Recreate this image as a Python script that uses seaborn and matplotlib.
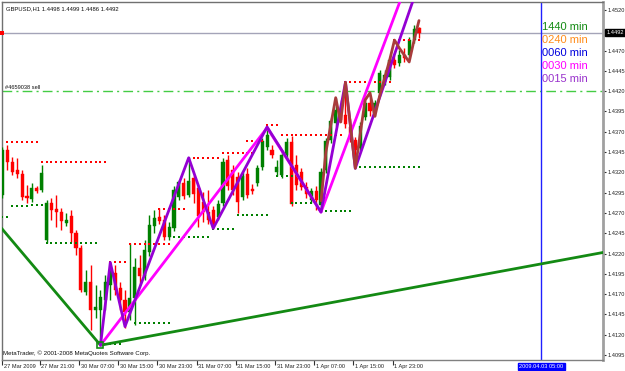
import matplotlib
matplotlib.use("Agg")
import matplotlib.pyplot as plt
import matplotlib.transforms as mtransforms
from matplotlib import font_manager
import numpy as np
import pandas as pd
import seaborn as sns

# ---------------- data ----------------
bars = list(range(86))
opens = [1.4292, 1.4348, 1.4333, 1.4323, 1.4318, 1.4291, 1.4287, 1.4301, 1.4298, 1.4237,
         1.4282, 1.4275, 1.4271, 1.4258, 1.4266, 1.4245, 1.4227, 1.4173, 1.4185, 1.4150,
         1.4150, 1.4163, 1.4181, 1.4196, 1.4178, 1.4163, 1.4148, 1.4165, 1.4202, 1.4192,
         1.4222, 1.4254, 1.4265, 1.4261, 1.4240, 1.4251, 1.4290, 1.4307, 1.4292, 1.4313,
         1.4301, 1.4283, 1.4271, 1.4274, 1.4265, 1.4282, 1.4335, 1.4323, 1.4314, 1.4290,
         1.4318, 1.4299, 1.4307, 1.4327, 1.4351, 1.4348, 1.4320, 1.4317, 1.4341, 1.4357,
         1.4329, 1.4320, 1.4302, 1.4286, 1.4297, 1.4280, 1.4323, 1.4360, 1.4381, 1.4393,
         1.4391, 1.4376, 1.4360, 1.4350, 1.4388, 1.4405, 1.4393, 1.4418, 1.4431, 1.4437,
         1.4458, 1.4455, 1.4465, 1.4465, 1.4483, 1.4498]
highs = [1.4351, 1.4354, 1.4339, 1.4338, 1.4323, 1.4304, 1.4307, 1.4303, 1.4329, 1.4286,
         1.4288, 1.4292, 1.4276, 1.4270, 1.4274, 1.4249, 1.4230, 1.4200, 1.4206, 1.4181,
         1.4175, 1.4194, 1.4210, 1.4206, 1.4185, 1.4175, 1.4233, 1.4214, 1.4218, 1.4237,
         1.4267, 1.4274, 1.4276, 1.4267, 1.4259, 1.4303, 1.4311, 1.4313, 1.4339, 1.4317,
         1.4304, 1.4296, 1.4298, 1.4278, 1.4286, 1.4338, 1.4341, 1.4329, 1.4320, 1.4320,
         1.4325, 1.4306, 1.4329, 1.4362, 1.4376, 1.4354, 1.4335, 1.4348, 1.4362, 1.4365,
         1.4341, 1.4325, 1.4308, 1.4301, 1.4303, 1.4325, 1.4362, 1.4387, 1.4412, 1.4409,
         1.4431, 1.4387, 1.4364, 1.4382, 1.4409, 1.4412, 1.4409, 1.4446, 1.4446, 1.4463,
         1.4465, 1.4471, 1.4473, 1.4487, 1.4502, 1.4499]
lows = [1.4288, 1.4323, 1.4317, 1.4313, 1.4286, 1.4282, 1.4283, 1.4295, 1.4296, 1.4233,
        1.4261, 1.4253, 1.4249, 1.4254, 1.4234, 1.4218, 1.4173, 1.4169, 1.4126, 1.4141,
        1.4107, 1.4150, 1.4163, 1.4169, 1.4150, 1.4128, 1.4138, 1.4132, 1.4181, 1.4187,
        1.4217, 1.4245, 1.4256, 1.4237, 1.4237, 1.4248, 1.4286, 1.4287, 1.4290, 1.4282,
        1.4253, 1.4259, 1.4256, 1.4250, 1.4261, 1.4278, 1.4298, 1.4292, 1.4270, 1.4286,
        1.4288, 1.4293, 1.4303, 1.4323, 1.4348, 1.4338, 1.4315, 1.4313, 1.4338, 1.4278,
        1.4298, 1.4298, 1.4288, 1.4282, 1.4274, 1.4271, 1.4319, 1.4356, 1.4377, 1.4382,
        1.4375, 1.4357, 1.4325, 1.4345, 1.4384, 1.4389, 1.4389, 1.4414, 1.4428, 1.4434,
        1.4449, 1.4451, 1.4456, 1.4461, 1.4479, 1.4486]
closes = [1.4348, 1.4333, 1.4320, 1.4318, 1.4290, 1.4288, 1.4301, 1.4297, 1.4319, 1.4282,
          1.4274, 1.4271, 1.4260, 1.4261, 1.4245, 1.4227, 1.4175, 1.4185, 1.4150, 1.4154,
          1.4166, 1.4185, 1.4197, 1.4175, 1.4163, 1.4148, 1.4165, 1.4203, 1.4192, 1.4224,
          1.4255, 1.4264, 1.4260, 1.4240, 1.4253, 1.4298, 1.4308, 1.4291, 1.4309, 1.4293,
          1.4266, 1.4271, 1.4261, 1.4254, 1.4281, 1.4333, 1.4303, 1.4298, 1.4283, 1.4315,
          1.4292, 1.4297, 1.4325, 1.4359, 1.4366, 1.4341, 1.4327, 1.4341, 1.4357, 1.4281,
          1.4304, 1.4302, 1.4293, 1.4297, 1.4286, 1.4320, 1.4359, 1.4383, 1.4397, 1.4384,
          1.4380, 1.4361, 1.4348, 1.4377, 1.4405, 1.4396, 1.4405, 1.4442, 1.4440, 1.4458,
          1.4452, 1.4465, 1.4461, 1.4483, 1.4497, 1.4492]

# zigzag pivots (bar index, price)
zz1440_bars = [-2, 20, 125]
zz1440_prices = [1.4264, 1.4107, 1.4224]
zz0030_bars = [20, 54, 65, 85]
zz0030_prices = [1.4107, 1.4375, 1.4271, 1.4593]
zz0015_bars = [20, 22, 25, 38, 43, 54, 65, 70, 72, 85]
zz0015_prices = [1.4107, 1.4209, 1.4130, 1.4338, 1.4251, 1.4376, 1.4271, 1.4431, 1.4325, 1.4553]
zz0005_bars = [65, 66, 68, 69, 70, 72, 74, 75, 76, 77, 79, 80, 81, 83, 84, 85]
zz0005_prices = [1.4285, 1.4345, 1.4412, 1.4382, 1.4431, 1.4325, 1.4409, 1.4418, 1.4389, 1.4415,
                 1.4458, 1.4483, 1.4473, 1.4456, 1.4483, 1.4507]

# fractal level dots: price, first bar, last bar
res_prices = [1.4357, 1.4333, 1.4210, 1.4232, 1.4275, 1.4338, 1.4344, 1.4359, 1.4378, 1.4366, 1.4431, 1.4483]
res_start = [1, 8, 22, 26, 32, 38, 45, 50, 54, 57, 70, 80]
res_end = [7, 21, 25, 34, 37, 44, 51, 53, 56, 69, 79, 85]
sup_prices = [1.4265, 1.4278, 1.4280, 1.4233, 1.4109, 1.4134, 1.4240, 1.4250, 1.4267, 1.4315, 1.4282, 1.4272, 1.4327]
sup_start = [0, 2, 6, 9, 21, 27, 35, 43, 48, 56, 59, 66, 72]
sup_end = [1, 5, 8, 19, 24, 34, 42, 47, 54, 59, 65, 71, 85]

price_ticks = [1.4520, 1.4470, 1.4445, 1.4420, 1.4395, 1.4370, 1.4345, 1.4320, 1.4295,
               1.4270, 1.4245, 1.4220, 1.4195, 1.4170, 1.4145, 1.4120, 1.4095]
time_tick_bars = [0, 8, 16, 24, 32, 40, 48, 56, 64, 72, 80]
time_tick_labels = ["27 Mar 2009", "27 Mar 21:00", "30 Mar 07:00", "30 Mar 15:00", "30 Mar 23:00",
                    "31 Mar 07:00", "31 Mar 15:00", "31 Mar 23:00", "1 Apr 07:00", "1 Apr 15:00",
                    "1 Apr 23:00"]
legend_labels = ["1440 min", "0240 min", "0060 min", "0030 min", "0015 min"]
legend_colors = ["#138a13", "#ff8c1a", "#0000dd", "#ff00ff", "#9932cc"]
last_price = 1.4492
order_price = 1.4420
future_bar = 110
title_text = "GBPUSD,H1 1.4498 1.4499 1.4486 1.4492"

# ---------------- style ----------------
sns.set_theme(style="white")
names = {f.name for f in font_manager.fontManager.ttflist}
small = "Liberation Sans Narrow" if "Liberation Sans Narrow" in names else "Liberation Sans"
plt.rcParams["font.family"] = ["Liberation Sans", "DejaVu Sans"]
FS = 4.1

W, H = 625, 371
fig = plt.figure(figsize=(W / 100, H / 100), dpi=100)
fig.patch.set_facecolor("white")
ax = fig.add_axes([2 / W, 11 / H, 601 / W, 358 / H])
ax.set_facecolor("white")

px_per_bar = 4.9
x0 = -0.1
ax.set_xlim(x0, x0 + 601 / px_per_bar)
ax.set_ylim(1.40888, 1.45299)

df = pd.DataFrame({"bar": bars, "open": opens, "high": highs, "low": lows, "close": closes})
GREEN, RED = "#008000", "#ff0000"
for _, r in df.iterrows():
    col = GREEN if r["close"] >= r["open"] else RED
    ax.vlines(r["bar"], r["low"], r["high"], color=col, lw=1.0, zorder=3)
    h = max(abs(r["close"] - r["open"]), 0.00008)
    ax.bar(r["bar"], h, bottom=min(r["open"], r["close"]), width=0.62, color=col,
           edgecolor=col, lw=0.3, zorder=4)

# horizontal lines
ax.axhline(last_price, color="#a4a4b8", lw=1.0, zorder=1)
ax.axhline(order_price, color="#44cc44", lw=1.0, ls=(0, (7, 3, 1.5, 3)), zorder=1)
ax.axvline(future_bar, color="#2020ff", lw=1.0, zorder=1)

# fractal dots
for p, a, b in zip(res_prices, res_start, res_end):
    xs = list(range(a, b + 1))
    ax.plot(xs, [p] * len(xs), ls="none", marker="s", ms=1.5, mew=0, color=RED, zorder=5)
for p, a, b in zip(sup_prices, sup_start, sup_end):
    xs = list(range(a, b + 1))
    ax.plot(xs, [p] * len(xs), ls="none", marker="s", ms=1.5, mew=0, color=GREEN, zorder=5)

# zigzags
sns.lineplot(x=zz1440_bars, y=zz1440_prices, sort=False, estimator=None, color="#138a13", lw=2.0, ax=ax, zorder=6)
sns.lineplot(x=zz0030_bars, y=zz0030_prices, sort=False, estimator=None, color="#ff00ff", lw=2.0, ax=ax, zorder=7)
sns.lineplot(x=zz0015_bars, y=zz0015_prices, sort=False, estimator=None, color="#9400d3", lw=2.0, ax=ax, zorder=8)
sns.lineplot(x=zz0005_bars, y=zz0005_prices, sort=False, estimator=None, color="#a83c3c", lw=2.0, ax=ax, zorder=9)
ax.plot([zz1440_bars[1]], [zz1440_prices[1]], marker="s", ms=4, mfc="none", mec="#138a13", mew=1.2, zorder=10)
ax.plot([0], [last_price], marker="s", ms=2.5, mew=0, color=RED, zorder=10, clip_on=False)

# spines / axes
for s in ["left", "top"]:
    ax.spines[s].set_color("#707070")
    ax.spines[s].set_linewidth(1.0)
ax.spines["right"].set_color("#a0a0a0")
ax.spines["right"].set_linewidth(2.0)
ax.spines["bottom"].set_color("#808080")
ax.spines["bottom"].set_linewidth(1.0)
ax.spines["bottom"].set_linestyle((0, (1, 1)))

ax.yaxis.tick_right()
ax.set_yticks(price_ticks)
ax.set_yticklabels([f"{v:.4f}" for v in price_ticks], fontsize=FS, family=small, color="#202020")
ax.tick_params(axis="y", which="both", right=True, left=False, length=2.5, width=0.8, color="#303030", pad=0.8)

tick_x = [b - 0.4 if b > 0 else 0.0 for b in time_tick_bars]
ax.set_xticks(tick_x)
ax.set_xticklabels([])
ax.tick_params(axis="x", which="both", bottom=True, length=3.5, width=0.8, color="#303030", direction="out")
bt = mtransforms.blended_transform_factory(ax.transData, ax.transAxes)
for tx, lab in zip(tick_x, time_tick_labels):
    ax.text(tx + 0.35, -0.012, lab, transform=bt, ha="left", va="top", fontsize=FS,
            family=small, color="#202020", clip_on=False)

# current price box and future date box
rt = mtransforms.blended_transform_factory(ax.transAxes, ax.transData)
ax.text(1.006, last_price, "1.4492", transform=rt, ha="left", va="center", fontsize=FS,
        family=small, color="white", clip_on=False,
        bbox=dict(boxstyle="square,pad=0.2", facecolor="black", edgecolor="black"))
ax.text(future_bar, -0.012, "2009.04.03 05:00", transform=bt, ha="center", va="top", fontsize=FS,
        family=small, color="white", clip_on=False,
        bbox=dict(boxstyle="square,pad=0.2", facecolor="#0000ff", edgecolor="#0000ff"))

# texts
ax.text(0.006, 0.988, title_text, transform=ax.transAxes, ha="left", va="top", fontsize=4.2,
        family=small, color="#101010")
ax.text(0.6, order_price + 0.00012, "#4659038 sell", ha="left", va="bottom", fontsize=FS,
        family=small, color="#101010")
ax.text(0.002, 0.012, "MetaTrader, \u00a9 2001-2008 MetaQuotes Software Corp.", transform=ax.transAxes,
        ha="left", va="bottom", fontsize=4.4, family=small, color="#101010")

for i, (lab, col) in enumerate(zip(legend_labels, legend_colors)):
    fig.text(542 / W, 1 - (27 + 13 * i) / H, lab, ha="left", va="center", fontsize=8,
             color=col, family="Liberation Sans")

fig.savefig("out.png", dpi=100, facecolor="white")
